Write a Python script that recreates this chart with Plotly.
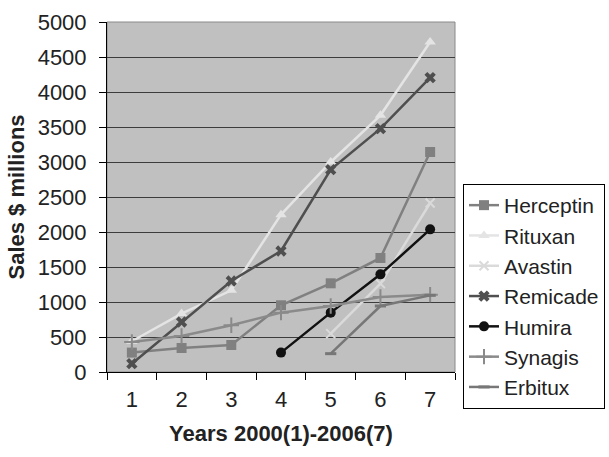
import plotly.graph_objects as go

years = ["1", "2", "3", "4", "5", "6", "7"]
herceptin = [277, 343, 386, 953, 1267, 1629, 3143]
rituxan = [439, 834, 1167, 2248, 3000, 3667, 4714]
avastin_years = ["5", "6", "7"]
avastin = [548, 1262, 2414]
remicade = [119, 714, 1300, 1729, 2891, 3476, 4205]
humira_years = ["4", "5", "6", "7"]
humira = [277, 848, 1395, 2038]
synagis = [429, 514, 667, 848, 943, 1071, 1105]
erbitux_years = ["5", "6", "7"]
erbitux = [262, 943, 1095]

series = [
    ("Herceptin", years, herceptin, "#808080", dict(symbol="square", size=10)),
    ("Rituxan", years, rituxan, "#e4e4e4", dict(symbol="triangle-up", size=10)),
    ("Avastin", avastin_years, avastin, "#dadada", dict(symbol="x-thin", size=9, line=dict(width=2, color="#dadada"))),
    ("Remicade", years, remicade, "#4f4f4f", dict(symbol="x", size=10)),
    ("Humira", humira_years, humira, "#111111", dict(symbol="circle", size=10)),
    ("Synagis", years, synagis, "#8a8a8a", dict(symbol="cross-thin", size=11, line=dict(width=2, color="#8a8a8a"))),
    ("Erbitux", erbitux_years, erbitux, "#777777", dict(symbol="line-ew", size=8, line=dict(width=3, color="#777777"))),
]

FAM = "Liberation Sans, Arial, sans-serif"
font = dict(family=FAM, size=22, color="#222222")

fig = go.Figure()
for name, xs, ys, col, mk in series:
    m = dict(color=col)
    m.update(mk)
    fig.add_trace(go.Scatter(
        x=xs, y=ys, name=name, mode="lines+markers",
        line=dict(color=col, width=2.5), marker=m, legendgroup=name,
    ))

fig.update_layout(
    width=609, height=457,
    margin=dict(l=107, r=154, t=22, b=85, autoexpand=False),
    paper_bgcolor="white",
    plot_bgcolor="#c0c0c0",
    font=font,
    showlegend=True,
    legend=dict(
        x=(463 - 107) / 348, xanchor="left", y=(372 - 184) / 350, yanchor="top",
        bordercolor="#000000", borderwidth=1, bgcolor="white",
        font=dict(family=FAM, size=21, color="#222222"),
        traceorder="grouped", tracegroupgap=0,
        itemwidth=30,
    ),
    xaxis=dict(
        type="category", categoryorder="array", categoryarray=years,
        range=[-0.5, 6.5],
        tickson="boundaries", ticks="outside", ticklen=7, tickcolor="#000000",
        ticklabelstandoff=8,
        showgrid=False, showline=True, linecolor="#000000", linewidth=1,
        title=dict(text="<b>Years 2000(1)-2006(7)</b>", font=font, standoff=14),
        tickfont=font,
    ),
    yaxis=dict(
        range=[0, 5000], dtick=500,
        ticks="outside", ticklen=7, tickcolor="#000000",
        ticklabelstandoff=8,
        showgrid=True, gridcolor="#3c3c3c", gridwidth=1,
        showline=True, linecolor="#000000", linewidth=1,
        zeroline=False,
        title=dict(text="<b>Sales $ millions</b>", font=font, standoff=6),
        tickfont=font,
    ),
)

fig.add_shape(type="rect", xref="paper", yref="paper", x0=0, y0=0, x1=1, y1=1,
              line=dict(color="#8a8a8a", width=1), layer="below")

fig.write_html("out.html")
